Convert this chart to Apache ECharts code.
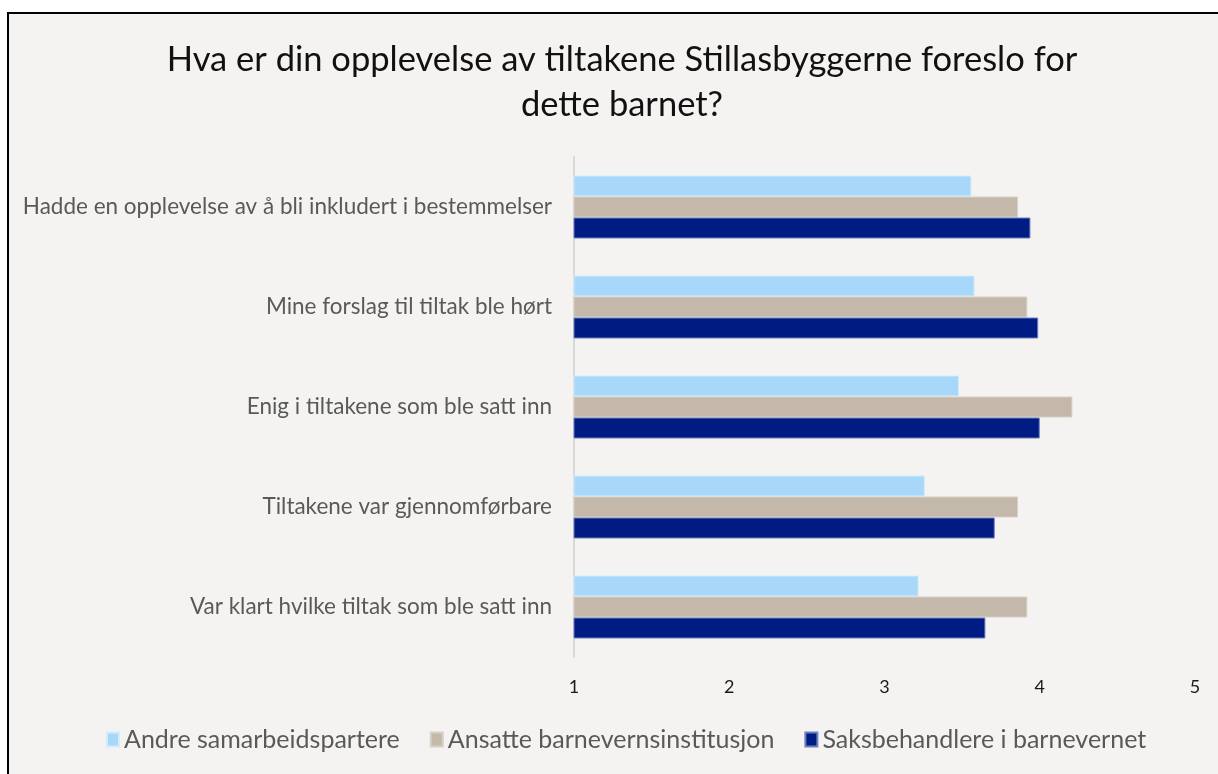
<!DOCTYPE html>
<html>
<head>
<meta charset="utf-8">
<title>Stillasbyggerne</title>
<script src="https://cdn.jsdelivr.net/npm/echarts@6/dist/echarts.min.js"></script>
<style>
  html, body { margin: 0; padding: 0; background: #ffffff; }
  #chart { width: 1218px; height: 774px; }
</style>
</head>
<body>
<div id="chart"></div>
<script>
// spørsmål (kategorier) fra topp til bunn
const categories = [
  'Hadde en opplevelse av å bli inkludert i bestemmelser',
  'Mine forslag til tiltak ble hørt',
  'Enig i tiltakene som ble satt inn',
  'Tiltakene var gjennomførbare',
  'Var klart hvilke tiltak som ble satt inn'
];
const seriesNames = ['Andre samarbeidspartere', 'Ansatte barnevernsinstitusjon', 'Saksbehandlere i barnevernet'];
const andre = [3.56, 3.58, 3.48, 3.26, 3.22];
const ansatte = [3.86, 3.92, 4.21, 3.86, 3.92];
const saksbehandlere = [3.94, 3.99, 4.0, 3.71, 3.65];
const xTicks = [1, 2, 3, 4, 5];

const colors = ['#a7d8f9', '#c4b8ab', '#001c82'];
const borders = ['#d2ecfc', '#d8cfc6', '#6d7fc0'];
const font = 'Lato, "Open Sans", sans-serif';

const myChart = echarts.init(document.getElementById('chart'));

const seriesData = [andre, ansatte, saksbehandlere];

const option = {
  backgroundColor: '#ffffff',
  animation: false,
  textStyle: { fontFamily: font },
  graphic: [
    {
      type: 'rect',
      shape: { x: 8, y: 13, width: 1230, height: 780 },
      style: { fill: '#f4f3f1', stroke: '#000000', lineWidth: 2 },
      z: -10
    }
  ],
  title: {
    text: 'Hva er din opplevelse av tiltakene Stillasbyggerne foreslo for\ndette barnet?',
    left: 617,
    top: 32,
    textAlign: 'center',
    textStyle: {
      fontFamily: font,
      fontSize: 34.5,
      fontWeight: 'normal',
      color: '#111111',
      lineHeight: 45
    }
  },
  legend: {
    data: seriesNames,
    bottom: 17,
    left: 101,
    itemWidth: 12,
    itemHeight: 14,
    itemGap: 30,
    icon: 'rect',
    textStyle: { fontFamily: font, fontSize: 25, color: '#595959' }
  },
  grid: {
    left: 574,
    right: 23,
    top: 157,
    bottom: 117,
    containLabel: false
  },
  xAxis: {
    type: 'value',
    min: 1,
    max: 5,
    interval: 1,
    axisLine: { show: false },
    axisTick: { show: false },
    splitLine: { show: false },
    axisLabel: {
      color: '#1a1a1a',
      fontSize: 18,
      margin: 21,
      formatter: (v) => (xTicks.includes(v) ? String(v) : '')
    }
  },
  yAxis: {
    type: 'category',
    inverse: true,
    data: categories,
    axisLine: { show: true, lineStyle: { color: '#d9d9d9', width: 2 } },
    axisTick: { show: false },
    axisLabel: {
      color: '#595959',
      fontSize: 22.5,
      margin: 22
    }
  },
  series: seriesNames.map((name, i) => ({
    name: name,
    type: 'bar',
    data: seriesData[i],
    barGap: '0%',
    barCategoryGap: '37%',
    clip: true,
    itemStyle: {
      color: colors[i],
      borderColor: borders[i],
      borderWidth: 1
    }
  }))
};

myChart.setOption(option);
</script>
</body>
</html>
